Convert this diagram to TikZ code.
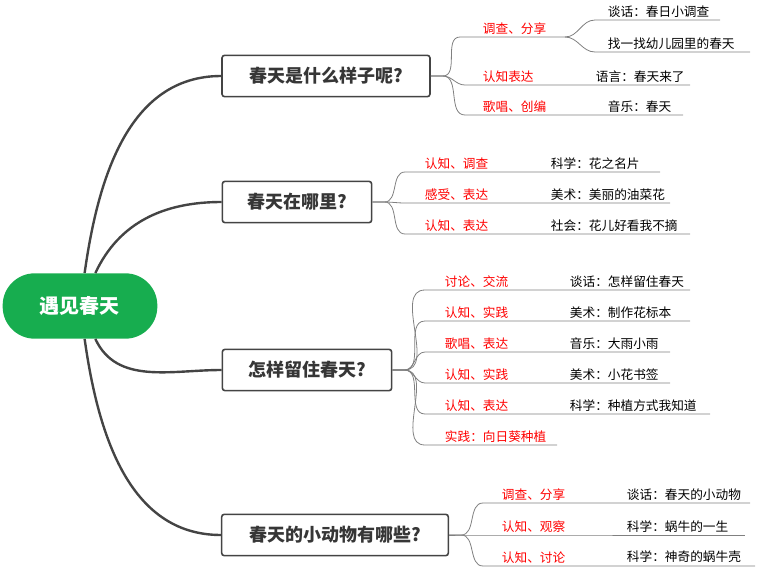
\documentclass[tikz,border=0pt]{standalone}
\usepackage{fontspec}
\setmainfont{Noto Sans CJK SC}
\usetikzlibrary{positioning}
\definecolor{rootgreen}{HTML}{17AD4F}
\definecolor{trunk}{HTML}{444444}
\tikzset{
	rootnode/.style={fill=rootgreen,text=white,rounded corners=24pt,minimum width=116pt,minimum height=49pt,font=\fontsize{15}{18}\selectfont\bfseries},
	topic/.style={draw=trunk,text=trunk!80!black,line width=1.2pt,rounded corners=2pt,fill=white,inner xsep=10pt,minimum height=31pt,font=\fontsize{13.5}{16}\selectfont\bfseries},
	tag/.style={text=red,inner sep=2pt,font=\fontsize{9.5}{11}\selectfont},
	item/.style={text=black,inner sep=2pt,font=\fontsize{9.5}{11}\selectfont},
	branch/.style={draw=trunk,line width=1.8pt},
	twig/.style={draw=gray,line width=0.6pt}
}
% name, topic, y, x start, x red, red text, x black, black text, x end
\newcommand{\leaf}[9]{%
	\coordinate (#1s) at (#4,#3);
	\coordinate (#1e) at (#9,#3);
	\node[tag,anchor=south west] (#1t) at (#5,#3) {#6};
	\node[item,anchor=south west] (#1i) at (#7,#3) {#8};
	\draw[twig] (#2.east) -- ++(12,0) to[out=0,in=180] (#1s) -- (#1e);
}

\begin{document}
\begin{tikzpicture}[x=0.75pt,y=-0.75pt]
	\useasboundingbox (0,0) rectangle (758,575);
	\node[rootnode] (root) at (80,306) {遇见春天};
	\node[topic,minimum width=156pt] (spring) at (326,76) {春天是什么样子呢?};
	\node[topic,minimum width=112pt] (where) at (297,202) {春天在哪里?};
	\node[topic,minimum width=127pt] (keep) at (307,370) {怎样留住春天?};
	\node[topic,minimum width=170pt] (animal) at (335,535) {春天的小动物有哪些?};
	\draw[branch] (root) to[out=82,in=180] (spring.west);
	\draw[branch] (root) to[out=65,in=180] (where.west);
	\draw[branch] (root) to[out=-65,in=180] (keep.west);
	\draw[branch] (root) to[out=-82,in=180] (animal.west);
	% spring
	\coordinate (s1s) at (460,37);
	\coordinate (s1e) at (565,37);
	\node[tag,anchor=south west] (s1t) at (480,37) {调查、分享};
	\draw[twig] (spring.east) -- ++(12,0) to[out=0,in=180] (s1s) -- (s1e);
	\coordinate (s1as) at (595,20);
	\coordinate (s1ae) at (720,20);
	\node[item,anchor=south west] (s1a) at (605,20) {谈话：春日小调查};
	\draw[twig] (s1e) to[out=0,in=180] (s1as) -- (s1ae);
	\coordinate (s1bs) at (595,52);
	\coordinate (s1be) at (750,52);
	\node[item,anchor=south west] (s1b) at (605,52) {找一找幼儿园里的春天};
	\draw[twig] (s1e) to[out=0,in=180] (s1bs) -- (s1be);
	\leaf{s2}{spring}{85}{465}{480}{认知表达}{593}{语言：春天来了}{690}
	\leaf{s3}{spring}{115}{465}{480}{歌唱、创编}{605}{音乐：春天}{683}
	% where
	\leaf{w1}{where}{172}{405}{422}{认知、调查}{548}{科学：花之名片}{660}
	\leaf{w2}{where}{203}{405}{422}{感受、表达}{548}{美术：美丽的油菜花}{670}
	\leaf{w3}{where}{234}{405}{422}{认知、表达}{548}{社会：花儿好看我不摘}{690}
	% keep
	\leaf{k1}{keep}{290}{425}{442}{讨论、交流}{567}{谈话：怎样留住春天}{690}
	\leaf{k2}{keep}{321}{425}{442}{认知、实践}{567}{美术：制作花标本}{690}
	\leaf{k3}{keep}{352}{425}{442}{歌唱、表达}{567}{音乐：大雨小雨}{670}
	\leaf{k4}{keep}{383}{425}{442}{认知、实践}{567}{美术：小花书签}{670}
	\leaf{k5}{keep}{414}{425}{442}{认知、表达}{567}{科学：种植方式我知道}{710}
	\leaf{k6}{keep}{445}{425}{442}{实践：向日葵种植}{567}{}{557}
	% animal
	\leaf{a1}{animal}{503}{483}{499}{调查、分享}{624}{谈话：春天的小动物}{750}
	\leaf{a2}{animal}{535}{483}{499}{认知、观察}{624}{科学：蜗牛的一生}{745}
	\leaf{a3}{animal}{566}{483}{499}{认知、讨论}{624}{科学：神奇的蜗牛壳}{755}
\end{tikzpicture}
\end{document}
